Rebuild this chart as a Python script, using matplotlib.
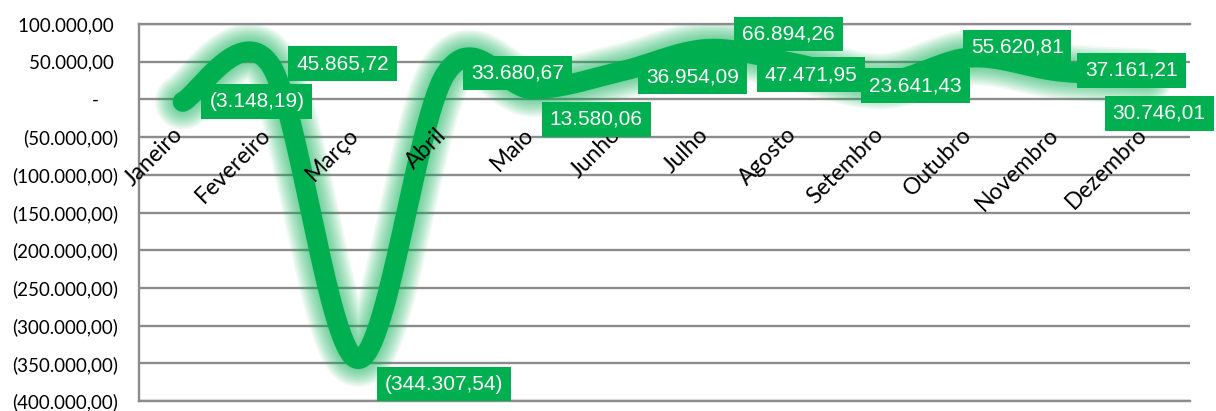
import matplotlib
matplotlib.use("Agg")
import matplotlib.pyplot as plt
import numpy as np

# dados mensais (saldo)
meses = ["Janeiro", "Fevereiro", "Março", "Abril", "Maio", "Junho",
         "Julho", "Agosto", "Setembro", "Outubro", "Novembro", "Dezembro"]
valores = [-3148.19, 45865.72, -344307.54, 33680.67, 13580.06, 36954.09,
           66894.26, 47471.95, 23641.43, 55620.81, 37161.21, 30746.01]
# deslocamento (pixels) de cada rótulo de dados em relação ao ponto
rot_dx = [74, 72, 86, 72, 63, 72, 80, 15, 32, 46, 73, 13]
rot_dy = [0, 1, -25, 1, -30, -5, 15, -11, -4, 10, 1, -37]
y_ticks = [100000, 50000, 0, -50000, -100000, -150000, -200000,
           -250000, -300000, -350000, -400000]

VERDE = "#00B050"
CINZA = "#8C8C8C"


def fmt_contabil(v):
    if v == 0:
        return "-    "
    s = f"{abs(v):,.2f}".replace(",", "X").replace(".", ",").replace("X", ".")
    return f"({s})" if v < 0 else s + " "


def fmt_rotulo(v):
    s = f"{abs(v):,.2f}".replace(",", "X").replace(".", ",").replace("X", ".")
    return f"({s})" if v < 0 else s


def suavizar(xs, ys, n=60):
    """curva suavizada tipo Excel (Bezier Catmull-Rom)"""
    pts = np.column_stack([xs, ys]).astype(float)
    ext = np.vstack([pts[0], pts, pts[-1]])
    out = []
    for i in range(len(pts) - 1):
        p0, p1, p2, p3 = ext[i], ext[i + 1], ext[i + 2], ext[i + 3]
        c1 = p1 + (p2 - p0) / 6
        c2 = p2 - (p3 - p1) / 6
        t = np.linspace(0, 1, n)[:, None]
        seg = ((1 - t) ** 3 * p1 + 3 * (1 - t) ** 2 * t * c1
               + 3 * (1 - t) * t ** 2 * c2 + t ** 3 * p2)
        out.append(seg if i == 0 else seg[1:])
    out = np.vstack(out)
    return out[:, 0], out[:, 1]


fig = plt.figure(figsize=(12.16, 4.11), dpi=100)
ax = fig.add_axes([139 / 1216, 1 - 401 / 411, (1190 - 139) / 1216, (401 - 24) / 411])

x = np.arange(len(meses))
ax.set_xlim(-0.5, len(meses) - 0.5)
ax.set_ylim(-400000, 100000)

ax.set_yticks(y_ticks)
ax.set_yticklabels([fmt_contabil(v) for v in y_ticks], family="Lato", fontsize=13.5)
ax.tick_params(axis="y", length=0, pad=15)
ax.set_xticks([])
ax.grid(axis="y", color=CINZA, linewidth=1.7, zorder=0)
ax.set_axisbelow(True)
ax.spines["right"].set_visible(False)
for s in ["left", "top", "bottom"]:
    ax.spines[s].set_color(CINZA)
    ax.spines[s].set_linewidth(1.7)

# linha suavizada com brilho
xs, ys = suavizar(x, valores)
for w in np.linspace(40, 16, 10):
    ax.plot(xs, ys, color=VERDE, linewidth=w, alpha=0.07,
            solid_capstyle="round", solid_joinstyle="round", zorder=2)
ax.plot(xs, ys, color=VERDE, linewidth=14.5, solid_capstyle="round",
        solid_joinstyle="round", zorder=3)

# rótulos dos meses (sobre o eixo no zero)
for i, m in enumerate(meses):
    ax.annotate(m, (i, 0), xytext=(-3, -32), textcoords="offset pixels",
                rotation=45, rotation_mode="anchor", ha="right", va="center",
                fontsize=16.5, family="Lato", color="black", zorder=4)

# rótulos de dados
for i, v in enumerate(valores):
    ax.annotate(fmt_rotulo(v), (i, v), xytext=(rot_dx[i], rot_dy[i]),
                textcoords="offset pixels", ha="center", va="center",
                fontsize=15, family="Liberation Sans", color="white", zorder=5,
                bbox=dict(boxstyle="square,pad=0.38", facecolor=VERDE,
                          edgecolor="none"))

fig.savefig("out.png", dpi=100)
